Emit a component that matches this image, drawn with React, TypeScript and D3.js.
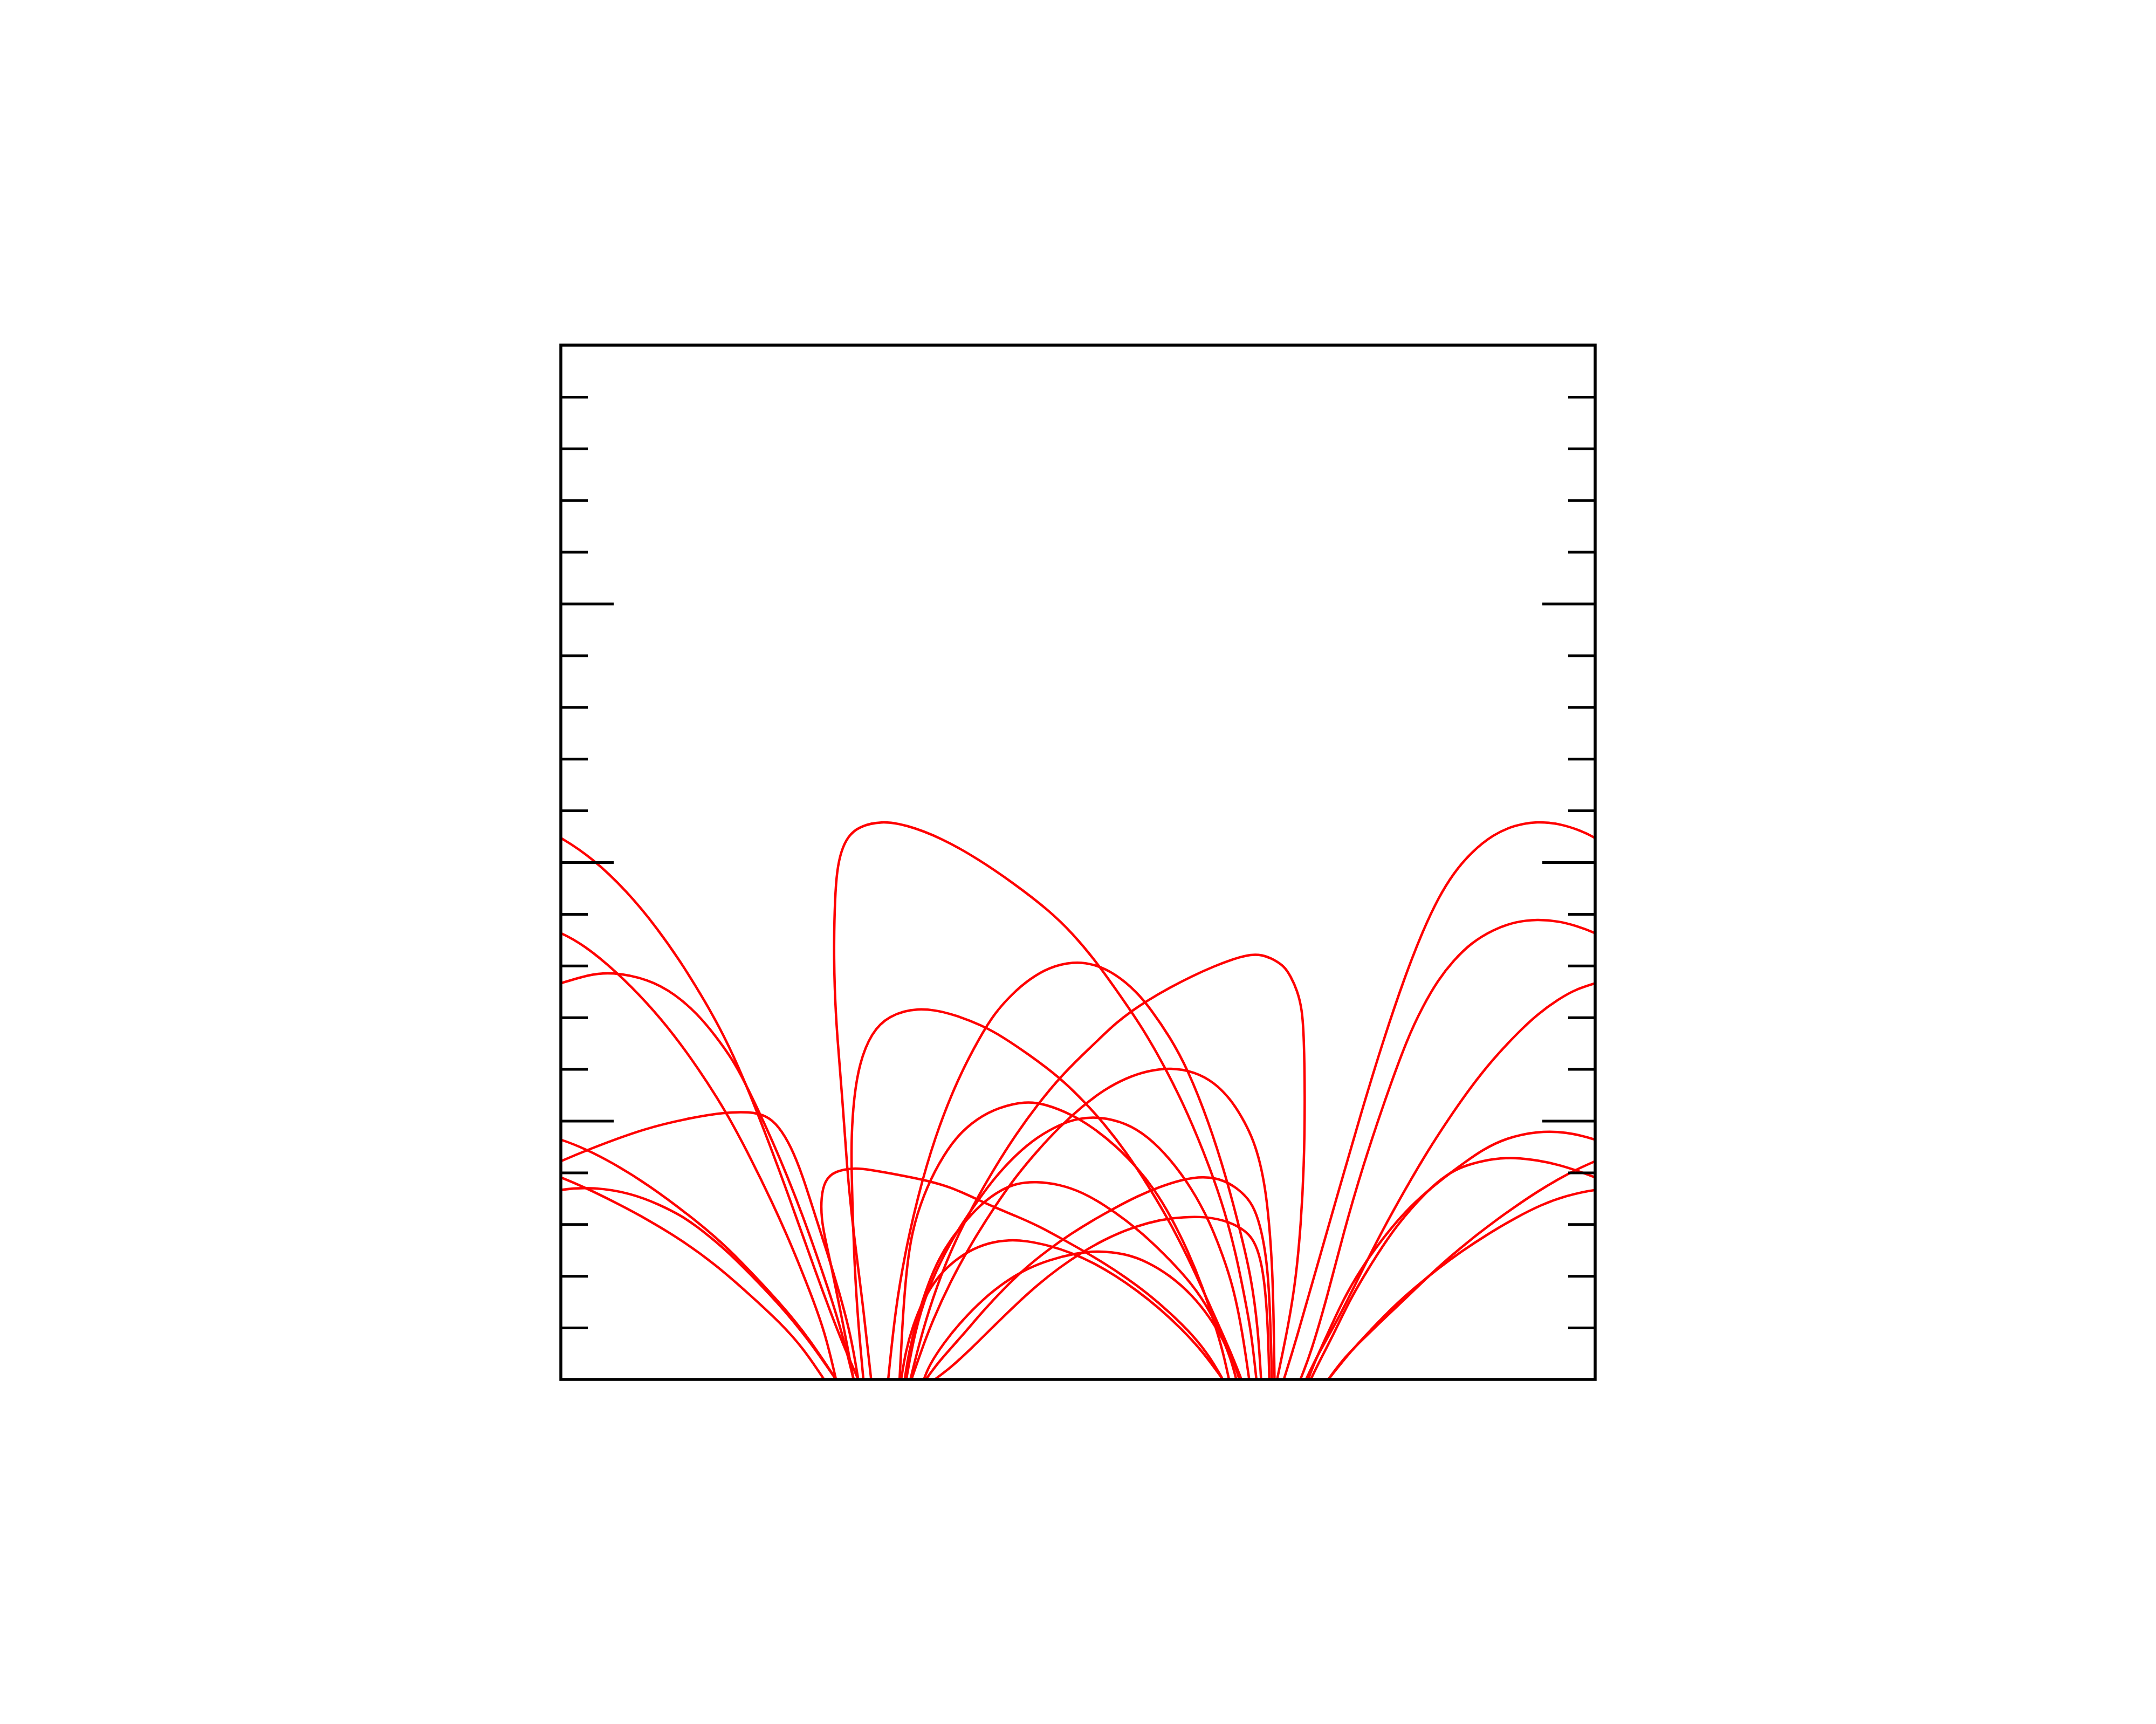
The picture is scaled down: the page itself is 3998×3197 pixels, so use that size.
import React, { useEffect, useRef } from "react";
import * as d3 from "d3";

type Pt = [number, number];

// x is periodic over 0..20, a line leaving at the right edge comes back in at the left
const PERIOD = 20;

const yMinorTicks = [1, 2, 3, 4, 6, 7, 8, 9, 11, 12, 13, 14, 16, 17, 18, 19];
const yMajorTicks = [5, 10, 15];

// lines going straight across from the left foot cluster to the right one
const loopA: Pt[] = [[6.0, 0], [5.83, 1.55], [5.66, 2.82], [5.53, 4.1], [5.45, 5.38], [5.34, 6.65], [5.29, 7.6], [5.28, 8.46], [5.3, 9.3], [5.34, 9.85], [5.42, 10.22], [5.55, 10.5], [5.76, 10.69], [6.19, 10.8], [6.67, 10.73], [7.36, 10.47], [8.06, 10.07], [8.75, 9.6], [9.44, 9.07], [9.9, 8.62], [10.35, 8.08], [10.72, 7.56], [11.06, 7.07], [11.35, 6.62], [11.69, 6.02], [12.12, 5.16], [12.55, 4.1], [12.84, 3.25], [13.06, 2.4], [13.23, 1.55], [13.35, 0.91], [13.45, 0]];
const loopB: Pt[] = [[5.85, 0], [5.74, 1.2], [5.68, 2.2], [5.64, 3.25], [5.62, 4.1], [5.62, 4.7], [5.66, 5.39], [5.77, 6.12], [6.01, 6.71], [6.33, 7.03], [6.89, 7.2], [7.53, 7.09], [8.16, 6.84], [8.55, 6.62], [9.01, 6.31], [9.65, 5.84], [10.16, 5.33], [10.5, 4.95], [10.93, 4.4], [11.35, 3.76], [11.78, 3.04], [12.21, 2.19], [12.63, 1.25], [12.97, 0.49], [13.16, 0]];
const loopC: Pt[] = [[5.66, 0], [5.53, 0.7], [5.36, 1.55], [5.23, 2.19], [5.11, 2.72], [5.04, 3.1], [5.03, 3.5], [5.1, 3.85], [5.3, 4.03], [5.66, 4.09], [5.96, 4.06], [6.67, 3.93], [7.1, 3.84], [7.53, 3.72], [7.95, 3.53], [8.38, 3.33], [8.8, 3.16], [9.23, 2.97], [9.65, 2.74], [10.08, 2.5], [10.5, 2.25], [10.93, 1.97], [11.35, 1.66], [11.78, 1.29], [12.21, 0.87], [12.55, 0.44], [12.8, 0]];
const loopD: Pt[] = [[6.76, 0], [6.93, 0.7], [7.18, 1.55], [7.53, 2.48], [7.95, 3.33], [8.38, 4.08], [8.8, 4.74], [9.23, 5.33], [9.65, 5.84], [10.08, 6.27], [10.46, 6.63], [10.72, 6.88], [11.06, 7.14], [11.35, 7.33], [11.78, 7.58], [12.21, 7.8], [12.63, 7.99], [13.06, 8.15], [13.35, 8.22], [13.56, 8.21], [13.77, 8.13], [13.99, 7.99], [14.11, 7.8], [14.24, 7.52], [14.33, 7.17], [14.37, 6.65], [14.39, 5.38], [14.37, 4.1], [14.31, 3.0], [14.22, 2.0], [14.08, 1.1], [13.85, 0]];
const loopE: Pt[] = [[6.33, 0], [6.47, 1.37], [6.66, 2.46], [6.89, 3.49], [7.22, 4.66], [7.68, 5.83], [8.12, 6.65], [8.38, 7.07], [8.72, 7.45], [9.06, 7.74], [9.44, 7.97], [9.91, 8.08], [10.29, 8.04], [10.72, 7.85], [11.14, 7.49], [11.4, 7.17], [11.78, 6.62], [12.12, 6.0], [12.52, 5.0], [12.87, 3.9], [13.15, 2.82], [13.35, 1.97], [13.48, 1.0], [13.54, 0]];
const loopF: Pt[] = [[6.78, 0], [6.95, 0.5], [7.18, 1.12], [7.53, 1.89], [7.95, 2.65], [8.38, 3.33], [8.8, 3.93], [9.23, 4.44], [9.65, 4.89], [10.08, 5.28], [10.5, 5.6], [10.93, 5.83], [11.35, 5.97], [11.8, 6.03], [12.25, 5.95], [12.63, 5.75], [12.97, 5.4], [13.23, 4.97], [13.4, 4.6], [13.52, 4.2], [13.62, 3.7], [13.69, 3.1], [13.75, 2.3], [13.78, 1.4], [13.8, 0]];
const loopG: Pt[] = [[6.55, 0], [6.6, 1.0], [6.67, 2.0], [6.78, 2.85], [7.02, 3.59], [7.31, 4.19], [7.65, 4.7], [8.04, 5.04], [8.46, 5.26], [8.99, 5.38], [9.35, 5.33], [9.87, 5.13], [10.29, 4.87], [10.72, 4.53], [11.14, 4.1], [11.48, 3.67], [11.78, 3.18], [12.12, 2.5], [12.42, 1.76], [12.63, 1.12], [12.8, 0.55], [12.92, 0]];
const loopH: Pt[] = [[6.68, 0], [6.84, 0.91], [7.1, 1.76], [7.44, 2.48], [7.74, 2.99], [8.08, 3.48], [8.38, 3.89], [8.8, 4.35], [9.23, 4.7], [9.65, 4.93], [10.0, 5.05], [10.42, 5.08], [10.93, 4.96], [11.35, 4.7], [11.78, 4.27], [12.21, 3.68], [12.55, 3.04], [12.8, 2.4], [13.01, 1.76], [13.18, 0.91], [13.31, 0]];
const loopI: Pt[] = [[7.06, 0], [7.31, 0.35], [7.74, 0.82], [8.16, 1.32], [8.59, 1.78], [9.01, 2.18], [9.44, 2.52], [9.87, 2.82], [10.29, 3.08], [10.72, 3.32], [11.14, 3.54], [11.57, 3.72], [11.99, 3.86], [12.42, 3.93], [12.84, 3.86], [13.18, 3.62], [13.38, 3.38], [13.52, 3.0], [13.64, 2.4], [13.71, 1.55], [13.75, 0]];
const loopJ: Pt[] = [[7.23, 0], [7.53, 0.22], [7.95, 0.61], [8.38, 1.04], [8.8, 1.45], [9.23, 1.84], [9.65, 2.17], [10.08, 2.46], [10.5, 2.7], [10.93, 2.89], [11.35, 3.03], [11.78, 3.12], [12.38, 3.16], [12.84, 3.08], [13.18, 2.92], [13.37, 2.74], [13.5, 2.45], [13.6, 1.97], [13.67, 1.12], [13.7, 0]];
const loopK: Pt[] = [[6.58, 0], [6.67, 0.55], [6.8, 1.02], [7.01, 1.55], [7.27, 1.96], [7.53, 2.23], [7.87, 2.48], [8.29, 2.65], [8.67, 2.7], [9.01, 2.68], [9.44, 2.59], [9.87, 2.45], [10.29, 2.26], [10.72, 2.01], [11.14, 1.72], [11.57, 1.38], [11.99, 0.99], [12.42, 0.53], [12.8, 0]];
const loopL: Pt[] = [[7.02, 0], [7.12, 0.27], [7.4, 0.7], [7.74, 1.12], [8.16, 1.55], [8.59, 1.89], [9.01, 2.14], [9.44, 2.31], [9.95, 2.44], [10.38, 2.49], [10.93, 2.43], [11.35, 2.27], [11.78, 2.01], [12.21, 1.63], [12.55, 1.2], [12.8, 0.78], [13.01, 0.35], [13.12, 0]];
const loopM: Pt[] = [[6.65, 0], [6.72, 0.48], [6.89, 1.2], [7.1, 1.85], [7.31, 2.33], [7.53, 2.7], [7.87, 3.12], [8.16, 3.42], [8.5, 3.66], [8.8, 3.79], [9.18, 3.83], [9.65, 3.77], [10.08, 3.62], [10.5, 3.38], [10.93, 3.08], [11.35, 2.73], [11.78, 2.31], [12.21, 1.84], [12.55, 1.33], [12.8, 0.8], [12.97, 0.35], [13.06, 0]];

// lines that go out over the periodic edge, x carried on past 20
const wrap1: Pt[] = [[13.98, 0], [14.2, 0.7], [14.62, 2.18], [15.05, 3.68], [15.47, 5.14], [15.9, 6.55], [16.33, 7.82], [16.67, 8.68], [16.96, 9.3], [17.26, 9.79], [17.6, 10.19], [18.03, 10.54], [18.45, 10.72], [18.88, 10.79], [19.3, 10.75], [19.73, 10.61], [20, 10.48], [20.6, 10.09], [21.28, 9.44], [21.87, 8.72], [22.38, 7.98], [22.77, 7.34], [23.15, 6.66], [23.52, 5.86], [23.98, 4.7], [24.45, 3.43], [24.91, 2.12], [25.38, 0.85], [25.75, 0]];
const wrap2: Pt[] = [[14.3, 0], [14.5, 0.5], [14.82, 1.6], [15.13, 2.82], [15.5, 4.1], [15.95, 5.45], [16.37, 6.6], [16.67, 7.22], [16.96, 7.72], [17.26, 8.1], [17.6, 8.44], [18.03, 8.7], [18.45, 8.85], [18.88, 8.9], [19.3, 8.86], [19.64, 8.77], [20, 8.64], [20.43, 8.41], [21.06, 7.9], [21.7, 7.25], [22.19, 6.66], [22.64, 6.04], [23.19, 5.19], [23.66, 4.3], [24.09, 3.42], [24.47, 2.57], [24.81, 1.72], [25.11, 0.91], [25.32, 0]];
const wrap3: Pt[] = [[14.41, 0], [14.62, 0.45], [15.05, 1.2], [15.47, 2.06], [15.9, 2.91], [16.33, 3.68], [16.75, 4.4], [17.18, 5.06], [17.6, 5.66], [18.03, 6.2], [18.5, 6.7], [18.88, 7.06], [19.3, 7.36], [19.64, 7.55], [20, 7.66], [20.55, 7.83], [20.98, 7.88], [21.7, 7.74], [22.21, 7.45], [22.64, 7.07], [22.98, 6.66], [23.32, 6.19], [23.57, 5.72], [23.83, 5.18], [24.09, 4.61], [24.38, 3.93], [24.68, 3.16], [24.98, 2.31], [25.28, 1.42], [25.49, 0.7], [25.66, 0]];
const wrap4: Pt[] = [[14.45, 0], [14.58, 0.35], [14.84, 0.91], [15.13, 1.55], [15.47, 2.14], [15.9, 2.74], [16.33, 3.25], [16.75, 3.64], [17.18, 3.98], [17.47, 4.19], [17.82, 4.44], [18.28, 4.67], [18.88, 4.8], [19.43, 4.79], [20, 4.65], [20.51, 4.44], [20.98, 4.2], [21.7, 3.76], [22.55, 3.12], [22.98, 2.76], [23.4, 2.37], [24.26, 1.46], [24.81, 0.78], [25.32, 0]];
const wrap5: Pt[] = [[14.84, 0], [15.13, 0.4], [15.47, 0.74], [15.9, 1.16], [16.33, 1.56], [16.75, 1.97], [17.18, 2.36], [17.6, 2.71], [18.03, 3.04], [18.45, 3.34], [18.88, 3.63], [19.3, 3.88], [19.64, 4.06], [20, 4.22], [20.49, 4.43], [21.65, 4.87], [22.58, 5.07], [23.14, 5.16], [23.65, 5.18], [23.98, 5.1], [24.21, 4.9], [24.45, 4.51], [24.68, 3.93], [24.91, 3.19], [25.15, 2.46], [25.38, 1.7], [25.61, 0.85], [25.75, 0]];
const wrap6: Pt[] = [[14.5, 0], [14.67, 0.35], [14.96, 0.91], [15.26, 1.55], [15.69, 2.27], [16.11, 2.91], [16.54, 3.42], [16.96, 3.84], [17.3, 4.06], [17.6, 4.17], [18.03, 4.27], [18.45, 4.29], [18.88, 4.24], [19.3, 4.15], [19.64, 4.04], [20, 3.91], [20.47, 3.71], [21.06, 3.42], [21.7, 3.08], [22.34, 2.69], [22.98, 2.23], [23.62, 1.67], [24.26, 1.08], [24.68, 0.61], [25.09, 0]];
const wrap7: Pt[] = [[14.84, 0], [15.26, 0.53], [15.69, 0.99], [16.11, 1.42], [16.54, 1.8], [16.96, 2.14], [17.39, 2.46], [17.94, 2.82], [18.45, 3.12], [18.96, 3.38], [19.43, 3.55], [20, 3.68], [20.64, 3.72], [21.36, 3.6], [21.91, 3.38], [22.34, 3.16], [22.64, 2.95], [22.98, 2.68], [23.4, 2.31], [24.26, 1.42], [24.81, 0.74], [25.32, 0]];

const directLines = [loopA, loopB, loopC, loopD, loopE, loopF, loopG, loopH, loopI, loopJ, loopK, loopL, loopM];
const wrappedLines = [wrap1, wrap2, wrap3, wrap4, wrap5, wrap6, wrap7];

export default function App() {
  const svgRef = useRef<SVGSVGElement>(null);

  useEffect(() => {
    const svg = d3.select(svgRef.current);
    svg.selectAll("*").remove();

    const x = d3.scaleLinear().domain([0, PERIOD]).range([1040, 2958]);
    const y = d3.scaleLinear().domain([0, 20]).range([2558, 640]);

    svg
      .append("defs")
      .append("clipPath")
      .attr("id", "plot-clip")
      .append("rect")
      .attr("x", x(0))
      .attr("y", y(20))
      .attr("width", x(PERIOD) - x(0))
      .attr("height", y(0) - y(20));

    // basis spline keeps the hand-read points from giving little kinks
    const lineAt = (shift: number) =>
      d3
        .line<Pt>()
        .x(d => x(d[0] - shift))
        .y(d => y(d[1]))
        .curve(d3.curveBasis);

    const lines = svg
      .append("g")
      .attr("clip-path", "url(#plot-clip)")
      .attr("fill", "none")
      .attr("stroke", "#ff0000")
      .attr("stroke-width", 4.5)
      .attr("stroke-linejoin", "round");

    lines
      .selectAll(".direct")
      .data(directLines)
      .enter()
      .append("path")
      .attr("class", "direct")
      .attr("d", d => lineAt(0)(d));

    // draw the wrapped ones twice: right half as is, left half moved back one period
    [0, PERIOD].forEach(shift => {
      lines
        .selectAll(`.wrap-${shift}`)
        .data(wrappedLines)
        .enter()
        .append("path")
        .attr("class", `wrap-${shift}`)
        .attr("d", d => lineAt(shift)(d));
    });

    const addTicks = (axis: d3.Axis<d3.NumberValue>, at: number) => {
      svg
        .append("g")
        .attr("transform", `translate(${at},0)`)
        .call(axis)
        .call(g => g.select(".domain").remove())
        .call(g => g.selectAll("text").remove())
        .call(g => g.selectAll("line").attr("stroke", "#000").attr("stroke-width", 5));
    };

    addTicks(d3.axisLeft(y).tickValues(yMinorTicks).tickSize(-50).tickSizeOuter(0), x(0));
    addTicks(d3.axisLeft(y).tickValues(yMajorTicks).tickSize(-98).tickSizeOuter(0), x(0));
    addTicks(d3.axisRight(y).tickValues(yMinorTicks).tickSize(-50).tickSizeOuter(0), x(PERIOD));
    addTicks(d3.axisRight(y).tickValues(yMajorTicks).tickSize(-98).tickSizeOuter(0), x(PERIOD));

    svg
      .append("rect")
      .attr("x", x(0))
      .attr("y", y(20))
      .attr("width", x(PERIOD) - x(0))
      .attr("height", y(0) - y(20))
      .attr("fill", "none")
      .attr("stroke", "#000")
      .attr("stroke-width", 5.5);
  }, []);

  return (
    <svg
      ref={svgRef}
      width={3998}
      height={3197}
      style={{ position: "absolute", left: 0, top: 0, background: "#fff" }}
    />
  );
}
